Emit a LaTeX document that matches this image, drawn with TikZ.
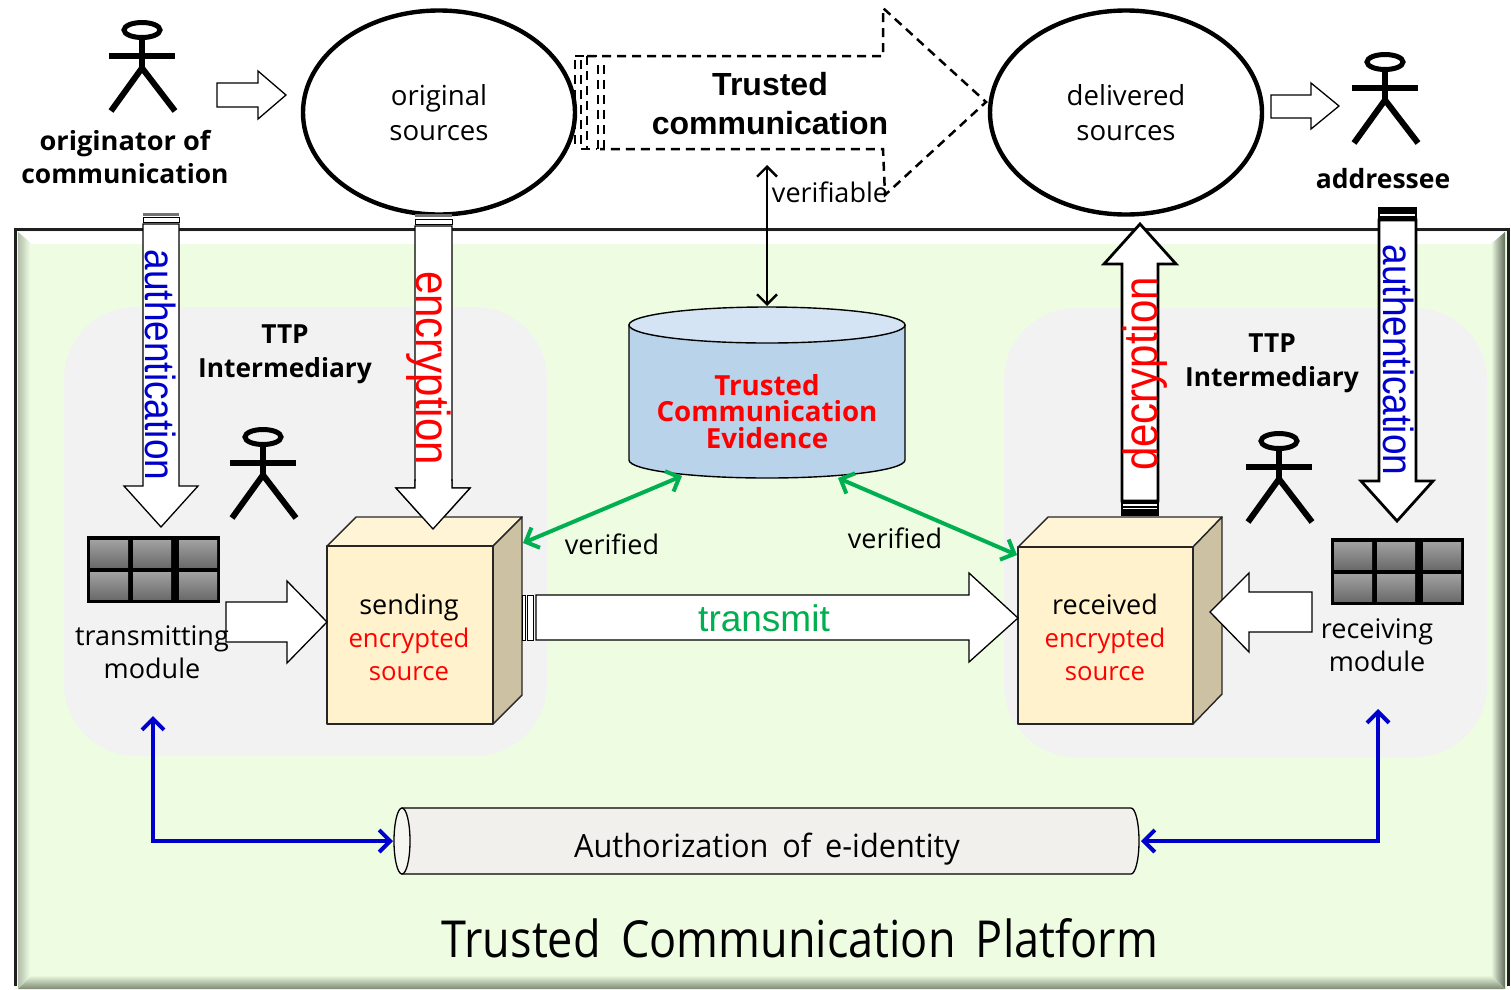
\documentclass[tikz,border=0pt]{standalone}
\usepackage{fontspec}
\setmainfont{Open Sans}
\newfontfamily\arialf{Liberation Sans}
\usetikzlibrary{arrows.meta,shapes.geometric}
\definecolor{platgreen}{HTML}{EEFDE2}
\definecolor{bevelgrey}{HTML}{7C8A74}
\definecolor{ttpgrey}{HTML}{F2F2F2}
\definecolor{cubefront}{HTML}{FFF2CC}
\definecolor{cubetop}{HTML}{FFF4D6}
\definecolor{cubeside}{HTML}{CCC1A3}
\definecolor{cylblue}{HTML}{B9D3EA}
\definecolor{cyltop}{HTML}{D5E4F4}
\definecolor{pipefill}{HTML}{F2F0EC}
\definecolor{pipeface}{HTML}{F6F6F1}
\definecolor{okgreen}{HTML}{00B050}
\definecolor{authblue}{HTML}{0000CC}
\newcommand\fsz[2]{\fontsize{#1}{#2}\selectfont}
\newcommand\tallv[1]{\scalebox{1}[1.14]{#1}}
\tikzset{
  lbl/.style={inner sep=0pt,align=center,text=black},
  hollow/.style={draw=black,fill=white,line width=1.3pt,line join=miter},
  hollowthick/.style={draw=black,fill=white,line width=2.8pt,line join=miter},
  verify/.style={draw=black,line width=2.4pt,{Straight Barb[length=10pt,width=20pt]}-{Straight Barb[length=10pt,width=20pt]}},
  trust/.style={draw=okgreen,line width=4pt,{Straight Barb[length=11pt,width=22pt]}-{Straight Barb[length=11pt,width=22pt]}},
  authline/.style={draw=authblue,line width=4pt,line join=miter,{Straight Barb[length=11pt,width=22pt]}-{Straight Barb[length=11pt,width=22pt]}},
  dashbox/.style={draw=black,line width=2.5pt,dash pattern=on 9pt off 6pt},
  source/.style={draw=black,line width=4.4pt,fill=white,ellipse,minimum width=272pt,minimum height=204pt,inner sep=0pt,align=center},
  cell/.style={top color=black!37,bottom color=black!58,draw=none},
  cubeline/.style={draw=black!85,line width=1.4pt,line join=round},
  vertext/.style={inner sep=0pt,anchor=base,font=\arialf},
  actor/.pic={
    \draw[line width=5pt] (0,0) ellipse[x radius=18pt,y radius=7.5pt];
    \draw[line width=5.5pt] (0,7) -- (0,38);
    \draw[line width=6pt] (-33,26) -- (33,26);
    \draw[line width=6pt] (-31,81) -- (0,38) -- (33,81);
  },
  keypad/.pic={
    \fill[black] (0,0) rectangle (133,67);
    \foreach \cx in {3,46,92}{
      \foreach \cy in {4,36}{
        \shade[cell] (\cx,\cy) rectangle ++(38,27);
      }
    }
  },
}
\begin{document}
\begin{tikzpicture}[x=1pt,y=-1pt]
\useasboundingbox (0,0) rectangle (1511,989);
\fill[white] (0,0) rectangle (1511,989);

% platform with bevel
\fill[platgreen] (15,229) rectangle (1508,989);
\fill[white] (18,232) -- (1505,232) -- (1491,244) -- (32,244) -- cycle;
\begin{scope}
  \clip (18,232) -- (32,244) -- (32,975) -- (18,989) -- cycle;
  \shade[left color=black!25!platgreen,right color=platgreen] (18,232) rectangle (30,989);
\end{scope}
\begin{scope}
  \clip (1505,232) -- (1491,244) -- (1491,975) -- (1505,989) -- cycle;
  \shade[left color=platgreen,right color=bevelgrey!70!black] (1491,232) rectangle (1506,989);
\end{scope}
\begin{scope}
  \clip (18,989) -- (32,975) -- (1491,975) -- (1505,989) -- cycle;
  \shade[top color=platgreen,bottom color=bevelgrey] (18,975) rectangle (1505,989);
\end{scope}
\draw[line width=3pt,draw=black!88] (15.5,986) -- (15.5,229.5) -- (1508,229.5) -- (1508,986);

% TTP regions
\fill[ttpgrey,rounded corners=72pt] (64,307) rectangle (547,756);
\fill[ttpgrey,rounded corners=72pt] (1004,308) rectangle (1487,757);

% top row
\pic at (142,30) {actor};
\pic at (1385,62) {actor};
\pic at (263,437) {actor};
\pic at (1279,441) {actor};
\node[lbl,font=\fsz{26.4}{33}\bfseries] (originator) at (125,157) {\scalebox{1.03}[1]{originator of}\\communication};
\node[lbl,font=\fsz{26.5}{33}\bfseries] (addressee) at (1383,178.5) {addressee};
\draw[hollow] (217,83) -- (258,83) -- (258,71) -- (286,95) -- (258,119) -- (258,107) -- (217,107) -- cycle;
\draw[hollow] (1271,95) -- (1311,95) -- (1311,83) -- (1339,106) -- (1311,129) -- (1311,118) -- (1271,118) -- cycle;

% dashed arrow
\draw[dashbox] (575,60) -- (575,149);
\draw[dashbox] (581,60) -- (581,149);
\draw[dashbox] (575,56) -- (597,56);
\draw[dashbox] (581,149) -- (597,149);
\draw[dashbox] (587,56) -- (587,149);
\draw[dashbox] (598,65) -- (598,149);
\draw[dashbox] (604,65) -- (604,149);
\draw[dashbox] (587,56) -- (883,56) -- (883,8) -- (986,102) -- (885,195) -- (883,149) -- (600,149);
\node[lbl,font=\fsz{32}{39}\bfseries\arialf] (trusted) at (770,104) {Trusted\\communication};

\node[source,font=\fsz{27.6}{35}] (orig) at (439,112.5) {original\\sources};
\node[source,font=\fsz{27.6}{35}] (deliv) at (1126,112.5) {delivered\\sources};

% evidence cylinder
\draw[draw=black,line width=1.4pt,fill=cylblue] (629,325) -- (629,460) arc[start angle=180,end angle=360,x radius=138pt,y radius=18pt] -- (905,325) -- cycle;
\draw[draw=black,line width=1.4pt,fill=cyltop] (767,325) ellipse[x radius=138pt,y radius=18pt];
\node[lbl,text=red,font=\fsz{27.7}{26.5}\bfseries] (evidence) at (767,411.5) {Trusted\\Communication\\Evidence};
\coordinate (evtop) at (767,306);
\coordinate (commbottom) at (767,165);
\draw[verify] (commbottom) -- (evtop);
\node[lbl,font=\fsz{27}{33}] (verifiable) at (830,192) {verifiable};

% authentication left
\fill[black!55] (143,213) rectangle (179,216);
\draw[hollow,line width=1pt] (143,217.5) rectangle (179,222);
\draw[hollow] (143,224) -- (179,224) -- (179,486) -- (198,486) -- (161,527) -- (124,486) -- (143,486) -- cycle;
\node[vertext,rotate=-90,text=authblue,font=\fsz{37}{37}\arialf] (authL) at (145,365) {\tallv{authentication}};

% encryption
\fill[black!55] (415,214) rectangle (452,217);
\draw[hollow,line width=1pt] (415,219) rectangle (452,224);
\draw[hollow] (415,226) -- (452,226) -- (452,488) -- (470,488) -- (433,529) -- (396,488) -- (415,488) -- cycle;

% decryption
\fill[black] (1121,502) rectangle (1159,516);
\fill[white] (1123,503.5) rectangle (1157,505.5);
\fill[white] (1123,507.5) rectangle (1157,509);
\draw[hollowthick] (1122,501) -- (1122,264) -- (1104,264) -- (1140,224) -- (1176,264) -- (1158,264) -- (1158,501) -- cycle;

% authentication right
\fill[black] (1378,207) rectangle (1417,220);
\fill[white] (1380,214) rectangle (1415,216);
\draw[hollowthick] (1379,220) -- (1416,220) -- (1416,481) -- (1433,481) -- (1397,521) -- (1361,481) -- (1379,481) -- cycle;
\node[vertext,rotate=-90,text=authblue,font=\fsz{37}{37}\arialf] (authR) at (1383,360) {\tallv{authentication}};

\pic at (87,536) {keypad};
\pic at (1331,538) {keypad};

% sending cube
\draw[cubeline,fill=cubetop] (327,546) -- (356,517) -- (522,517) -- (493,546) -- cycle;
\draw[cubeline,fill=cubeside] (493,546) -- (522,517) -- (522,695) -- (493,724) -- cycle;
\draw[cubeline,fill=cubefront] (327,546) rectangle (493,724);
\node[lbl,font=\fsz{27}{33}] (sending) at (409,637.5) {sending\\\textcolor{red}{\fontsize{25.7}{32.5}\selectfont encrypted}\\\textcolor{red}{\fontsize{25.7}{32.5}\selectfont source}};

% received cube
\draw[cubeline,fill=cubetop] (1018,547) -- (1048,517) -- (1222,517) -- (1193,547) -- cycle;
\draw[cubeline,fill=cubeside] (1193,547) -- (1222,517) -- (1222,694) -- (1193,724) -- cycle;
\draw[cubeline,fill=cubefront] (1018,547) rectangle (1193,724);
\node[lbl,font=\fsz{27}{33}] (received) at (1105,637.5) {received\\\textcolor{red}{\fontsize{25.7}{32.5}\selectfont encrypted}\\\textcolor{red}{\fontsize{25.7}{32.5}\selectfont source}};

% arrow head of encryption lies over the cube top
\draw[hollow] (415,480) -- (452,480) -- (452,488) -- (470,488) -- (433,529) -- (396,488) -- (415,488) -- cycle;
\fill[white] (416,478) rectangle (451,490);
\node[vertext,rotate=-90,text=red,font=\fsz{42}{42}\arialf] (encr) at (416,368) {\tallv{encryption}};
\node[vertext,rotate=90,text=red,font=\fsz{42}{42}\arialf] (decr) at (1157,374) {\tallv{decryption}};

% module arrows
\draw[hollow] (226,602) -- (287,602) -- (287,581) -- (327,622) -- (287,663) -- (287,642) -- (226,642) -- cycle;
\draw[hollow] (1312,592) -- (1249,592) -- (1249,573) -- (1210,612) -- (1249,652) -- (1249,632) -- (1312,632) -- cycle;
\node[lbl,font=\fsz{27}{33}] (txmod) at (152,652) {transmitting\\module};
\node[lbl,font=\fsz{27}{33}] (rxmod) at (1377,645) {receiving\\module};

% transmit arrow
\draw[hollow,line width=1pt] (522,595) rectangle (525,640);
\draw[hollow,line width=1pt] (527,595) rectangle (533,640);
\draw[hollow] (536,595) -- (969,595) -- (969,573) -- (1018,618) -- (969,662) -- (969,640) -- (536,640) -- cycle;
\node[lbl,text=okgreen,font=\fsz{37}{37}\arialf] (transmit) at (764,618) {transmit};

% TTP labels
\node[lbl,font=\fsz{26.3}{34}\bfseries] (ttpL) at (285,354) {TTP\\Intermediary};
\node[lbl,font=\fsz{26.3}{34}\bfseries] (ttpR) at (1272,363) {TTP\\Intermediary};

% verified links
\coordinate (sendcorner) at (523,543);
\coordinate (evleft) at (682,476);
\coordinate (evright) at (838,478);
\coordinate (recvcorner) at (1017,555);
\draw[trust] (sendcorner) -- (evleft);
\draw[trust] (evright) -- (recvcorner);
\node[lbl,font=\fsz{27}{33}] (verL) at (612,544) {verified};
\node[lbl,font=\fsz{27}{33}] (verR) at (895,538) {verified};

% authorization pipe
\draw[draw=black,line width=1.3pt,fill=pipefill] (402,808) -- (1131,808) arc[start angle=90,end angle=-90,x radius=8pt,y radius=33pt] -- (402,874) -- cycle;
\draw[draw=black,line width=1.3pt,fill=pipeface] (402,841) ellipse[x radius=8pt,y radius=33pt];
\node[lbl,font=\fsz{32}{38}] (authz) at (767,849) {\scalebox{.96}[1]{\spaceskip=0.45em Authorization of e-identity}};
\coordinate (txbelow) at (153,716);
\coordinate (rxbelow) at (1378,709);
\coordinate (pipeL) at (393,841);
\coordinate (pipeR) at (1141,841);
\draw[authline] (txbelow) |- (pipeL);
\draw[authline] (rxbelow) |- (pipeR);

\node[lbl,font=\fsz{51}{60}] (platform) at (800,938) {\scalebox{.883}[1]{\spaceskip=0.45em Trusted Communication Platform}};
\end{tikzpicture}
\end{document}
